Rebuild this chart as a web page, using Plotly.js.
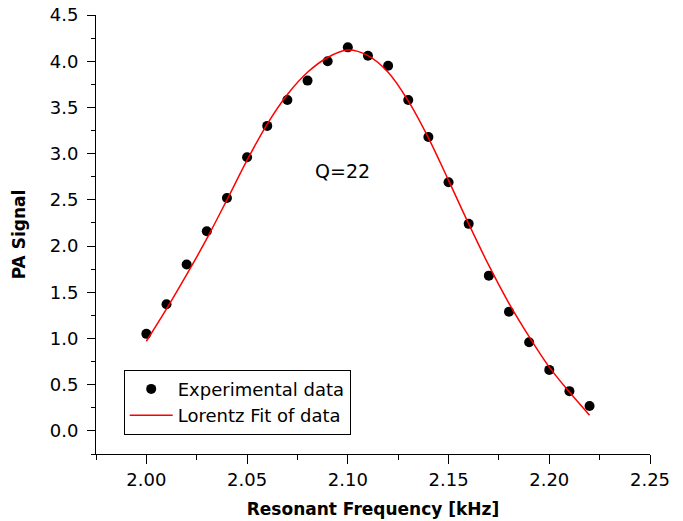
<!DOCTYPE html>
<html>
<head>
<meta charset="utf-8">
<script src="https://cdn.plot.ly/plotly-3.0.1.min.js"></script>
<style>html,body{margin:0;padding:0;background:#fff;}#chart{width:683px;height:521px;}</style>
</head>
<body>
<div id="chart"></div>
<script>
// Experimental data
const freqData = [2.00, 2.01, 2.02, 2.03, 2.04, 2.05, 2.06, 2.07, 2.08, 2.09, 2.10, 2.11,
                  2.12, 2.13, 2.14, 2.15, 2.16, 2.17, 2.18, 2.19, 2.20, 2.21, 2.22];
const signalData = [1.05, 1.37, 1.80, 2.16, 2.52, 2.96, 3.30, 3.58, 3.79, 4.00, 4.15, 4.06,
                    3.95, 3.58, 3.18, 2.69, 2.24, 1.68, 1.29, 0.96, 0.66, 0.43, 0.27];
// Lorentz fit curve
const fitFreq = [2.00, 2.01, 2.02, 2.03, 2.04, 2.05, 2.06, 2.07, 2.08, 2.09, 2.10, 2.11,
                 2.12, 2.13, 2.14, 2.15, 2.16, 2.17, 2.18, 2.19, 2.20, 2.21, 2.22];
const fitSignal = [0.97, 1.32, 1.69, 2.08, 2.50, 2.93, 3.32, 3.64, 3.88, 4.04, 4.12, 4.06,
                   3.88, 3.57, 3.17, 2.71, 2.24, 1.79, 1.38, 1.02, 0.69, 0.42, 0.17];
const xTicks = [2.00, 2.05, 2.10, 2.15, 2.20, 2.25];
const xTickText = ['2.00', '2.05', '2.10', '2.15', '2.20', '2.25'];
const yTicks = [0.0, 0.5, 1.0, 1.5, 2.0, 2.5, 3.0, 3.5, 4.0, 4.5];
const yTickText = ['0.0', '0.5', '1.0', '1.5', '2.0', '2.5', '3.0', '3.5', '4.0', '4.5'];
const seriesNames = ['Experimental data', 'Lorentz Fit of data'];
const noteText = 'Q=22';

const font = 'DejaVu Sans, Liberation Sans, Arial, sans-serif';

const traces = [
  {
    x: freqData, y: signalData, type: 'scatter', mode: 'markers', name: seriesNames[0],
    marker: {color: '#000', size: 10}
  },
  {
    x: fitFreq, y: fitSignal, type: 'scatter', mode: 'lines', name: seriesNames[1],
    line: {color: '#ff0000', width: 1.5, shape: 'spline', smoothing: 1}
  }
];

const layout = {
  width: 683, height: 521,
  margin: {l: 96, r: 33, t: 15, b: 67, pad: 0},
  paper_bgcolor: '#fff', plot_bgcolor: '#fff',
  font: {family: font, size: 18, color: '#000'},
  showlegend: true,
  legend: {
    x: 0.05, y: 0.044, xanchor: 'left', yanchor: 'bottom',
    bordercolor: '#000', borderwidth: 1, bgcolor: '#fff',
    font: {family: font, size: 18, color: '#000'},
    tracegroupgap: 0, itemwidth: 43
  },
  xaxis: {
    range: [1.975, 2.25], showgrid: false, zeroline: false,
    showline: true, linecolor: '#000', linewidth: 1,
    ticks: 'outside', ticklen: 9, tickwidth: 1, tickcolor: '#000',
    tickvals: xTicks, ticktext: xTickText,
    minor: {dtick: 0.025, tick0: 0, ticks: 'outside', ticklen: 5, tickwidth: 1, tickcolor: '#000', showgrid: false},
    tickfont: {family: font, size: 18, color: '#000'},
    title: {text: '<b>Resonant Frequency [kHz]</b>', font: {family: font, size: 17, color: '#000'}, standoff: 14}
  },
  yaxis: {
    range: [-0.25, 4.5], showgrid: false, zeroline: false,
    showline: true, linecolor: '#000', linewidth: 1,
    ticks: 'outside', ticklen: 8, tickwidth: 1, tickcolor: '#000',
    tickvals: yTicks, ticktext: yTickText,
    minor: {dtick: 0.25, tick0: 0, ticks: 'outside', ticklen: 4, tickwidth: 1, tickcolor: '#000', showgrid: false},
    tickfont: {family: font, size: 18, color: '#000'},
    ticklabelstandoff: 5,
    title: {text: '<b>PA Signal</b>', font: {family: font, size: 17, color: '#000'}, standoff: 19}
  },
  annotations: [
    {x: 2.0973, y: 2.81, xref: 'x', yref: 'y', text: noteText, showarrow: false,
     font: {family: font, size: 19, color: '#000'}}
  ]
};

Plotly.newPlot('chart', traces, layout, {displayModeBar: false, staticPlot: true});
</script>
</body>
</html>
